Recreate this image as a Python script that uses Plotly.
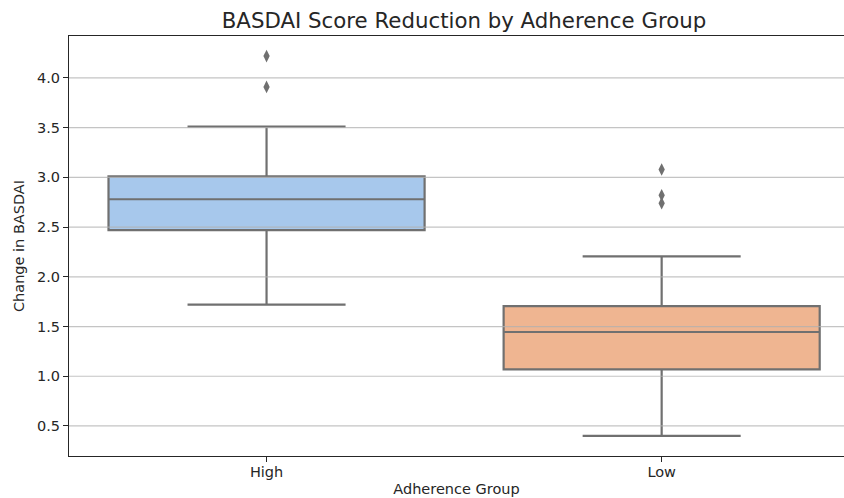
import plotly.graph_objects as go

groups = ["High", "Low"]
q1 = [2.47, 1.07]
median = [2.78, 1.445]
q3 = [3.01, 1.705]
lower_whisker = [1.72, 0.40]
upper_whisker = [3.51, 2.205]
fill_colors = ["#a7c8ec", "#efb591"]
outliers_high = [3.91, 4.22]
outliers_low = [2.74, 2.82, 3.08]
y_ticks = [0.5, 1.0, 1.5, 2.0, 2.5, 3.0, 3.5, 4.0]

LINE = "#707070"
FONT = "DejaVu Sans, sans-serif"
TXT = "#262626"

W, H = 844, 498

fig = go.Figure()
for i, g in enumerate(groups):
    fig.add_trace(go.Box(
        x=[g], q1=[q1[i]], median=[median[i]], q3=[q3[i]],
        lowerfence=[lower_whisker[i]], upperfence=[upper_whisker[i]],
        fillcolor=fill_colors[i], line=dict(color=LINE, width=2.2),
        width=0.8, whiskerwidth=0.5, boxpoints=False, showlegend=False,
        hoverinfo="skip",
    ))

for g, vals in zip(groups, [outliers_high, outliers_low]):
    fig.add_trace(go.Scatter(
        x=[g] * len(vals), y=vals, mode="markers",
        marker=dict(symbol="diamond-tall", size=9, color=LINE),
        showlegend=False, hoverinfo="skip",
    ))

shapes = [
    dict(type="line", xref="paper", yref="y", x0=0, x1=1, y0=v, y1=v,
         line=dict(color="rgba(176,176,176,0.75)", width=1.2), layer="above")
    for v in y_ticks
]

fig.update_layout(
    width=W, height=H,
    margin=dict(l=69, r=0, t=36, b=H - 456),
    paper_bgcolor="white", plot_bgcolor="white",
    font=dict(family=FONT, color=TXT, size=14),
    title=dict(text="BASDAI Score Reduction by Adherence Group",
               x=464 / W, xanchor="center", y=1 - 21 / H, yanchor="middle",
               font=dict(size=21.3, family=FONT, color=TXT)),
    shapes=shapes,
    xaxis=dict(
        type="category", categoryorder="array", categoryarray=groups,
        range=[-0.5, 1.4615], showgrid=False, automargin=False,
        showline=True, linecolor="#262626", linewidth=1.2, mirror=True,
        ticks="outside", ticklen=5, tickcolor="#262626",
        ticklabelstandoff=-3,
        tickfont=dict(size=14.5, family=FONT, color=TXT),
        title=dict(text="Adherence Group", standoff=5,
                   font=dict(size=14.5, family=FONT, color=TXT)),
        zeroline=False,
    ),
    yaxis=dict(
        range=[0.198, 4.422], tickvals=y_ticks,
        ticktext=[f"{v:.1f}" for v in y_ticks],
        showgrid=False, automargin=False,
        showline=True, linecolor="#262626", linewidth=1.2, mirror=False,
        ticks="outside", ticklen=5, tickcolor="#262626",
        tickfont=dict(size=14.5, family=FONT, color=TXT),
        title=dict(text="Change in BASDAI", standoff=8,
                   font=dict(size=14.5, family=FONT, color=TXT)),
        zeroline=False,
    ),
)

fig.write_html(
    "out.html",
    config={"displayModeBar": False},
    post_script="document.body.style.margin='0';document.body.style.overflow='hidden';",
)
